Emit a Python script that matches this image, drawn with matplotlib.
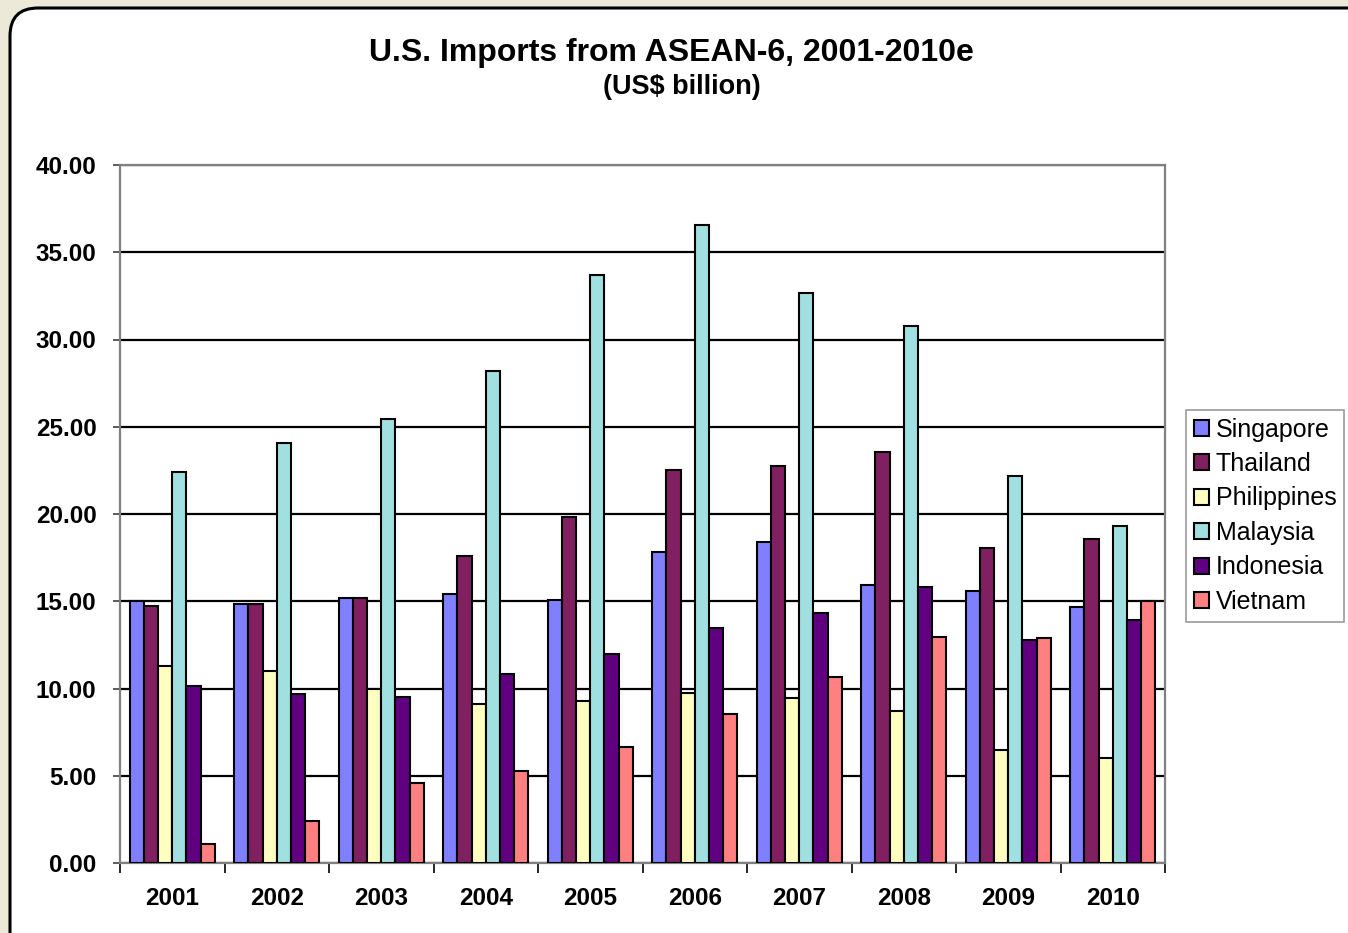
import numpy as np
import matplotlib.pyplot as plt
from matplotlib.patches import FancyBboxPatch, Patch
from matplotlib.transforms import IdentityTransform

plt.rcParams['font.family'] = ['Liberation Sans', 'DejaVu Sans']

# ------------------------------------------------------------
# 数据
# ------------------------------------------------------------
years = ['2001', '2002', '2003', '2004', '2005', '2006', '2007', '2008', '2009', '2010']
countries = ['Singapore', 'Thailand', 'Philippines', 'Malaysia', 'Indonesia', 'Vietnam']

singapore = [15.0, 14.85, 15.2, 15.4, 15.1, 17.8, 18.4, 15.93, 15.6, 14.67]
thailand = [14.7, 14.85, 15.2, 17.6, 19.8, 22.5, 22.75, 23.55, 18.05, 18.57]
philippines = [11.3, 11.0, 10.0, 9.1, 9.3, 9.75, 9.45, 8.7, 6.48, 6.02]
malaysia = [22.4, 24.07, 25.44, 28.2, 33.7, 36.56, 32.66, 30.77, 22.18, 19.3]
indonesia = [10.15, 9.7, 9.5, 10.83, 12.0, 13.47, 14.33, 15.82, 12.78, 13.93]
vietnam = [1.1, 2.4, 4.6, 5.3, 6.65, 8.54, 10.66, 12.95, 12.9, 15.0]

series = [singapore, thailand, philippines, malaysia, indonesia, vietnam]
colors = ['#8080FF', '#802060', '#FFFFC0', '#A0E0E0', '#600080', '#FF8080']

# ------------------------------------------------------------
# 画布
# ------------------------------------------------------------
W, H = 1348, 933
fig = plt.figure(figsize=(W / 100, H / 100), dpi=100)
fig.patch.set_facecolor('#ECE9D8')

# 圆角白色面板（放在坐标轴下面）
panel = FancyBboxPatch((10, -60), 1400, H - 8 + 60,
                       boxstyle='round,pad=0,rounding_size=28',
                       transform=IdentityTransform(), zorder=-5,
                       facecolor='white', edgecolor='black', linewidth=2.2)
fig.patches.append(panel)

ax = fig.add_axes([120 / W, (H - 863) / H, (1165 - 120) / W, (863 - 165) / H])
ax.set_facecolor('white')

x = np.arange(len(years))
n = len(series)
bw = 0.136
for i, (vals, c) in enumerate(zip(series, colors)):
    ax.bar(x + (i - (n - 1) / 2) * bw, vals, width=bw, color=c,
           edgecolor='black', linewidth=1.5, zorder=3, label=countries[i])

ax.set_xlim(-0.5, len(years) - 0.5)
ax.set_ylim(0, 40)
ax.set_yticks(np.arange(0, 40.01, 5))
ax.set_yticklabels([f'{v:.2f}' for v in np.arange(0, 40.01, 5)])
ax.yaxis.grid(True, color='black', linewidth=1.6, zorder=1)
ax.set_axisbelow(True)

# 类别分隔刻度
ax.set_xticks(np.arange(-0.5, len(years), 1))
ax.set_xticklabels([])
ax.set_xticks(x, minor=True)
ax.set_xticklabels(years, minor=True)
ax.tick_params(axis='x', which='major', length=7, width=1.2, color='black')
ax.tick_params(axis='x', which='minor', length=0, pad=17)
ax.tick_params(axis='y', length=5, width=1.2, color='#404040', pad=12)
for lab in ax.get_xticklabels(minor=True) + ax.get_yticklabels():
    lab.set_fontsize(17.5)
    lab.set_fontweight('bold')

for s in ax.spines.values():
    s.set_color('#808080')
    s.set_linewidth(1.6)

fig.text(671 / W, (H - 53) / H, 'U.S. Imports from ASEAN-6, 2001-2010e',
         ha='center', va='center', fontsize=23, fontweight='bold')
fig.text(682 / W, (H - 87) / H, '(US$ billion)',
         ha='center', va='center', fontsize=19.5, fontweight='bold')

handles = [Patch(facecolor=c, edgecolor='black', linewidth=1.5) for c in colors]
leg = fig.legend(handles, countries, loc='upper left',
                 bbox_to_anchor=(1186 / W, (H - 410) / H),
                 fontsize=18, frameon=True, fancybox=False,
                 handlelength=0.6, handleheight=0.6, handletextpad=0.3,
                 labelspacing=0.42, borderpad=0.3, borderaxespad=0)
leg.get_frame().set_edgecolor('#808080')
leg.get_frame().set_linewidth(1.2)

fig.savefig('out.png', dpi=100, facecolor=fig.get_facecolor())
